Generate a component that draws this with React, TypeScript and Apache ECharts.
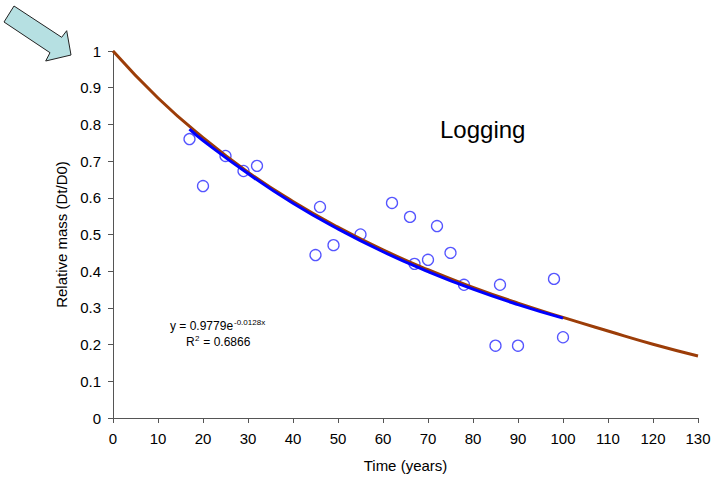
import React, { useEffect, useRef } from "react";
import * as echarts from "echarts";

const obsTime = [17, 20, 25, 29, 32, 45, 46, 49, 55, 62, 66, 67, 70, 72, 75, 78, 85, 86, 90, 98, 100];
const obsMass = [0.76, 0.632, 0.714, 0.673, 0.687, 0.444, 0.575, 0.471, 0.5, 0.586, 0.548, 0.42, 0.431, 0.523, 0.45, 0.363, 0.197, 0.363, 0.197, 0.379, 0.22];

const modelTime = [0, 10, 20, 30, 40, 50, 60, 70, 80, 90, 100, 110, 120, 130];
const modelMass = [1.0, 0.872, 0.764, 0.67, 0.59, 0.52, 0.458, 0.404, 0.356, 0.313, 0.274, 0.237, 0.201, 0.169];

const fitTime = [17, 20, 30, 40, 50, 60, 70, 80, 90, 100];
const fitMass = [0.787, 0.756, 0.666, 0.585, 0.515, 0.453, 0.399, 0.351, 0.309, 0.272];

const FONT = "Liberation Sans, Arial, sans-serif";

export default function App() {
  const ref = useRef<HTMLDivElement>(null);
  useEffect(() => {
    if (!ref.current) return;
    const chart = echarts.init(ref.current, undefined, { renderer: "svg" });
    chart.setOption({
      animation: false,
      backgroundColor: "#ffffff",
      textStyle: { fontFamily: FONT },
      grid: { left: 113, right: 17, top: 51, bottom: 60, containLabel: false },
      xAxis: {
        type: "value",
        min: 0,
        max: 130,
        interval: 10,
        name: "Time (years)",
        nameLocation: "middle",
        nameGap: 40,
        nameTextStyle: { color: "#000", fontSize: 15, fontFamily: FONT },
        axisLine: { lineStyle: { color: "#555", width: 1 } },
        axisTick: { show: true, length: 5, lineStyle: { color: "#555" } },
        axisLabel: { color: "#000", fontSize: 15, margin: 13, fontFamily: FONT },
        splitLine: { show: false },
      },
      yAxis: {
        type: "value",
        min: 0,
        max: 1,
        interval: 0.1,
        name: "Relative mass (Dt/D0)",
        nameLocation: "middle",
        nameGap: 40,
        nameRotate: 90,
        nameTextStyle: { color: "#000", fontSize: 15, fontFamily: FONT },
        axisLine: { show: true, lineStyle: { color: "#555", width: 1 } },
        axisTick: { show: true, length: 5, lineStyle: { color: "#555" } },
        axisLabel: { color: "#000", fontSize: 15, margin: 12, fontFamily: FONT },
        splitLine: { show: false },
      },
      series: [
        {
          type: "scatter",
          data: obsTime.map((t, i) => [t, obsMass[i]]),
          symbol: "circle",
          symbolSize: 11,
          itemStyle: { color: "#ffffff", borderColor: "#2b2bff", borderWidth: 1.3 },
          z: 2,
        },
        {
          type: "line",
          data: modelTime.map((t, i) => [t, modelMass[i]]),
          smooth: true,
          showSymbol: false,
          lineStyle: { color: "#9c3d08", width: 3 },
          z: 3,
        },
        {
          type: "line",
          data: fitTime.map((t, i) => [t, fitMass[i]]),
          smooth: true,
          showSymbol: false,
          lineStyle: { color: "#0000ff", width: 3 },
          z: 4,
        },
      ],
      graphic: [
        {
          type: "polygon",
          shape: {
            points: [
              [14, 6],
              [61.7, 37.3],
              [66.7, 30.7],
              [71, 55],
              [45.7, 61],
              [50, 52.7],
              [4, 22],
            ],
          },
          style: { fill: "#b6e0e2", stroke: "#222", lineWidth: 1 },
        },
        {
          type: "text",
          left: 440,
          top: 117,
          style: { text: "Logging", fill: "#000", font: `24px ${FONT}` },
        },
        {
          type: "text",
          left: 170,
          top: 320,
          style: { text: "y = 0.9779e", fill: "#000", font: `12px ${FONT}` },
        },
        {
          type: "text",
          left: 234,
          top: 318,
          style: { text: "-0.0128x", fill: "#000", font: `8px ${FONT}` },
        },
        {
          type: "text",
          left: 186,
          top: 336,
          style: { text: "R", fill: "#000", font: `12px ${FONT}` },
        },
        {
          type: "text",
          left: 195,
          top: 334,
          style: { text: "2", fill: "#000", font: `8px ${FONT}` },
        },
        {
          type: "text",
          left: 200,
          top: 336,
          style: { text: " = 0.6866", fill: "#000", font: `12px ${FONT}` },
        },
      ],
    });
    return () => chart.dispose();
  }, []);
  return (
    <div
      ref={ref}
      style={{ position: "fixed", left: 0, top: 0, width: 715, height: 478 }}
    />
  );
}
